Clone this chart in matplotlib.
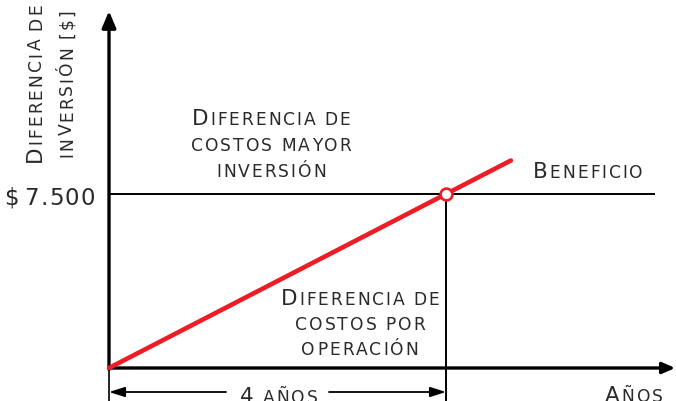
import matplotlib
matplotlib.use('Agg')
import matplotlib.pyplot as plt

# data (years, investment difference in $)
line_years = [0, 4.77]
line_cost = [0, 8944]
break_year = 4
break_cost = 7500
hline_end = 6.47
x_tip = 6.72
y_tip = 15388
y_tick_label = '$ 7.500'

W, H = 676, 402
FONT = 'DejaVu Sans'
TXT = '#2a2a2a'
RED = '#ee1c25'
BIG, SMALL = 15.5, 12.3

fig = plt.figure(figsize=(W / 100, H / 100), dpi=100)
ax = fig.add_axes([0, 0, 1, 1])
ax.axis('off')
# pixel scale: origin at (109, 369), 4 years -> 446 px, 7500 -> 195 px
sx = (446 - 109) / 4
sy = (369 - 195) / 7500
ax.set_xlim(-109 / sx, (W - 109) / sx)
ax.set_ylim(-(H - 369) / sy, 369 / sy)
y_bot = ax.get_ylim()[0]

renderer = fig.canvas.get_renderer()
_cache = {}


def ink(ch, size):
    key = (ch, size)
    if key not in _cache:
        t = fig.text(0, 0, ch, fontsize=size, family=FONT)
        _cache[key] = t.get_window_extent(renderer).width
        t.remove()
    return _cache[key]


def sc(x, y, s, ha='center', rot=0, track=2.0, space=5.0, big=BIG, small=SMALL):
    """small-caps text, one glyph at a time; x, y = baseline in image pixels"""
    items = []
    for c in s:
        if c == ' ':
            items.append((None, None, space))
            continue
        size = big if (c.isupper() or c.isdigit()) else small
        items.append((c.upper(), size, ink(c.upper(), size)))
    total = sum(w for _, _, w in items) + track * (len(items) - 1)
    pos = {'left': 0, 'center': -total / 2, 'right': -total}[ha]
    for ch, size, w in items:
        if ch is not None:
            fx, fy = (x + pos, y) if rot == 0 else (x, y - pos)
            fig.text(fx / W, (H - fy) / H, ch, fontsize=size, family=FONT, color=TXT,
                     rotation=rot, rotation_mode='anchor', ha='left', va='baseline')
        pos += w + track


# axes with arrows
ax.annotate('', xy=(x_tip, 0), xytext=(0, 0), annotation_clip=False,
            arrowprops=dict(arrowstyle='-|>,head_length=0.75,head_width=0.33', lw=2.4,
                            color='black', mutation_scale=10, shrinkA=0, shrinkB=0))
ax.annotate('', xy=(0, y_tip), xytext=(0, -60), annotation_clip=False,
            arrowprops=dict(arrowstyle='-|>,head_length=1.0,head_width=0.42', lw=2.4,
                            color='black', mutation_scale=10, shrinkA=0, shrinkB=0))
ax.plot([0, 0], [0, y_bot], color='black', lw=1.2, clip_on=False)

# break-even guide lines
ax.plot([0, hline_end], [break_cost, break_cost], color='black', lw=1.4)
ax.plot([break_year, break_year], [break_cost, y_bot], color='black', lw=1.4, clip_on=False)

# investment line and break-even point
ax.plot(line_years, line_cost, color=RED, lw=3.3, solid_capstyle='round', zorder=4)
ax.plot([break_year], [break_cost], 'o', ms=8.5, mfc='white', mec=RED, mew=1.9, zorder=5)

# dimension "4 años"
y_dim = -(393 - 369) / sy
for a, b in [((226 - 109) / sx, 0), ((329 - 109) / sx, break_year)]:
    ax.annotate('', xy=(b, y_dim), xytext=(a, y_dim), annotation_clip=False,
                arrowprops=dict(arrowstyle='-|>,head_length=0.95,head_width=0.3', lw=1.3,
                                color='black', mutation_scale=10, shrinkA=0, shrinkB=0))
sc(279, 403, '4 años')
sc(605, 402, 'Años', ha='left')

# labels
sc(95, 205, y_tick_label, ha='right', big=16.5, small=16.5, track=1.3, space=2.5)
sc(271, 125, 'Diferencia de')
sc(271, 151, 'costos mayor')
sc(271, 177, 'inversión')
sc(360, 305, 'Diferencia de')
sc(360, 330, 'costos por')
sc(360, 355, 'operación')
sc(533, 178, 'Beneficio', ha='left')
sc(41, 83, 'Diferencia de', rot=90)
sc(72, 83, 'inversión [$]', rot=90)

fig.savefig('out.png', dpi=100)
